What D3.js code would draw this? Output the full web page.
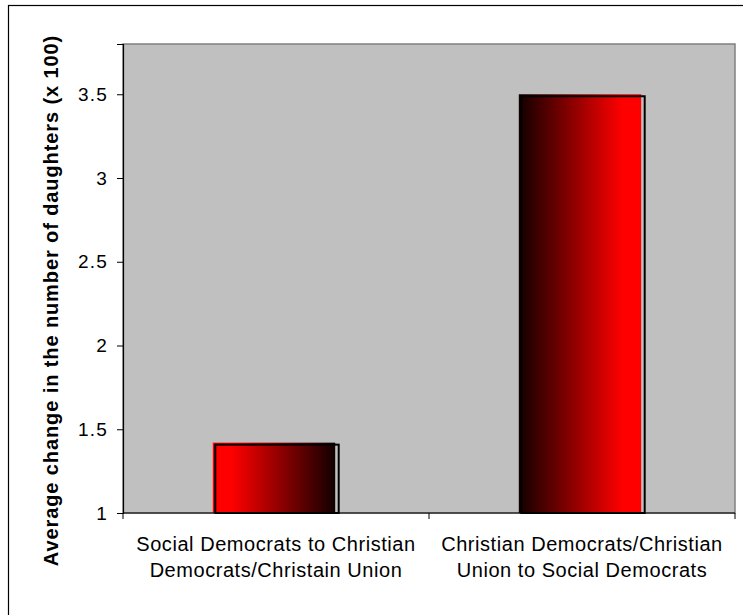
<!DOCTYPE html>
<html><head><meta charset="utf-8">
<script src="https://cdn.jsdelivr.net/npm/d3@7"></script>
<style>body{margin:0;background:#fff;} svg{display:block;font-family:Arial,"Liberation Sans",sans-serif;}</style>
</head><body>
<svg id="chart" width="743" height="615"></svg>
<script>
const categories = [
  ["Social Democrats to Christian", "Democrats/Christain Union"],
  ["Christian Democrats/Christian", "Union to Social Democrats"]
];
const values = [1.42, 3.50];
const yTicks = [1, 1.5, 2, 2.5, 3, 3.5];
const yLabel = "Average change in the number of daughters (x 100)";

const svg = d3.select("#chart");
const m = {left: 123, top: 44, right: 735, bottom: 513};

// outer chart border
svg.append("rect").attr("x", 8.5).attr("y", 5.5).attr("width", 760).attr("height", 640)
  .attr("fill", "#fff").attr("stroke", "#000").attr("stroke-width", 1.2);

const x = d3.scaleBand().domain(d3.range(categories.length)).range([m.left, m.right]).paddingInner(0).paddingOuter(0);
const y = d3.scaleLinear().domain([1, 3.8]).range([m.bottom, m.top]);

// plot area
svg.append("rect").attr("x", m.left).attr("y", m.top).attr("width", m.right - m.left).attr("height", m.bottom - m.top)
  .attr("fill", "#c0c0c0").attr("stroke", "#808080").attr("stroke-width", 1.5);

const defs = svg.append("defs");
const g1 = defs.append("linearGradient").attr("id", "gR2B").attr("x1", "0").attr("x2", "1").attr("y1", "0").attr("y2", "0");
g1.append("stop").attr("offset", "0").attr("stop-color", "#ff0000");
g1.append("stop").attr("offset", "0.15").attr("stop-color", "#ff0000");
g1.append("stop").attr("offset", "1").attr("stop-color", "#120000");
const g2 = defs.append("linearGradient").attr("id", "gB2R").attr("x1", "0").attr("x2", "1").attr("y1", "0").attr("y2", "0");
g2.append("stop").attr("offset", "0").attr("stop-color", "#120000");
g2.append("stop").attr("offset", "0.85").attr("stop-color", "#ff0000");
g2.append("stop").attr("offset", "1").attr("stop-color", "#ff0000");

const bw = x.bandwidth() * 0.4;
const bars = svg.append("g").selectAll("g").data(values).join("g");
bars.append("rect")
  .attr("x", (d, i) => x(i) + x.bandwidth() / 2 - bw / 2 - 2)
  .attr("y", d => y(d))
  .attr("width", bw)
  .attr("height", d => y(1) - y(d))
  .attr("fill", (d, i) => i === 0 ? "url(#gR2B)" : "url(#gB2R)");
bars.append("rect")
  .attr("x", (d, i) => x(i) + x.bandwidth() / 2 - bw / 2 + 0.5)
  .attr("y", d => y(d) + 2)
  .attr("width", bw + 1)
  .attr("height", d => y(1) - y(d) - 2)
  .attr("fill", "none").attr("stroke", "#000").attr("stroke-width", 2);

// y axis
const yAxis = d3.axisLeft(y).tickValues(yTicks).tickSize(6).tickPadding(9).tickFormat(d3.format("~g"));
const ya = svg.append("g").attr("transform", `translate(${m.left},0)`).call(yAxis);
ya.select(".domain").attr("stroke", "#000").attr("stroke-width", 1.2);
ya.selectAll(".tick line").attr("stroke", "#000");
ya.selectAll("text").attr("font-size", 19).attr("letter-spacing", 1.2).attr("fill", "#000")
  .attr("font-family", "Arial, 'Liberation Sans', sans-serif");

// x axis
const xa = svg.append("g").attr("transform", `translate(0,${m.bottom})`);
xa.append("line").attr("x1", m.left).attr("x2", m.right).attr("stroke", "#000").attr("stroke-width", 1.2);
xa.selectAll("line.t").data(d3.range(categories.length + 1)).join("line").attr("class", "t")
  .attr("x1", i => i < categories.length ? x(i) : m.right).attr("x2", i => i < categories.length ? x(i) : m.right)
  .attr("y1", 0).attr("y2", 6).attr("stroke", "#000");
const lbl = xa.selectAll("text").data(categories).join("text")
  .attr("x", (d, i) => x(i) + x.bandwidth() / 2)
  .attr("y", 37.5).attr("text-anchor", "middle").attr("font-size", 20).attr("letter-spacing", 0.55).attr("fill", "#000");
lbl.selectAll("tspan").data(d => d).join("tspan")
  .attr("x", function() { return d3.select(this.parentNode).attr("x"); })
  .attr("dy", (d, i) => i === 0 ? 0 : 26).text(d => d);

svg.append("text").attr("transform", `translate(57.5,${(m.top + m.bottom) / 2 + 22}) rotate(-90)`)
  .attr("text-anchor", "middle").attr("font-weight", "bold").attr("font-size", 20).attr("letter-spacing", 0.9).attr("fill", "#000")
  .text(yLabel);
</script>
</body></html>
